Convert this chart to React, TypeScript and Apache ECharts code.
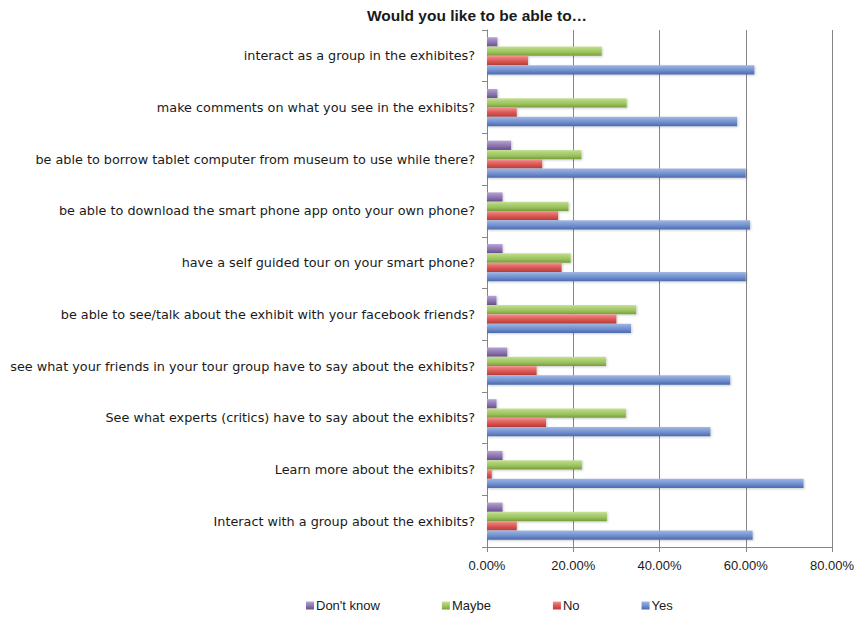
import React, { useEffect, useRef } from "react";
import * as echarts from "echarts";

const categories = [
  "interact as a group in the exhibites?",
  "make comments on what you see in the exhibits?",
  "be able to borrow tablet computer from museum to use while there?",
  "be able to download the smart phone app onto your own phone?",
  "have a self guided tour on your smart phone?",
  "be able to see/talk about the exhibit with your facebook friends?",
  "see what your friends in your tour group have to say about the exhibits?",
  "See what experts (critics) have to say about the exhibits?",
  "Learn more about the exhibits?",
  "Interact with a group about the exhibits?",
];

const dontKnow = [0.024, 0.024, 0.056, 0.036, 0.036, 0.022, 0.047, 0.022, 0.036, 0.036];
const maybe = [0.266, 0.324, 0.219, 0.189, 0.194, 0.346, 0.276, 0.322, 0.22, 0.278];
const no = [0.095, 0.069, 0.128, 0.165, 0.173, 0.3, 0.115, 0.137, 0.011, 0.069];
const yes = [0.62, 0.58, 0.6, 0.61, 0.6, 0.334, 0.564, 0.518, 0.734, 0.616];

const xTicks = ["0.00%", "20.00%", "40.00%", "60.00%", "80.00%"];

const grad = (c0: string, c1: string, c2: string, c3: string) =>
  new echarts.graphic.LinearGradient(0, 0, 0, 1, [
    { offset: 0, color: c0 },
    { offset: 0.25, color: c1 },
    { offset: 0.6, color: c2 },
    { offset: 1, color: c3 },
  ]);

export default function App() {
  const ref = useRef<HTMLDivElement>(null);
  useEffect(() => {
    if (!ref.current) return;
    const chart = echarts.init(ref.current, undefined, { renderer: "svg" });
    const font = "Liberation Sans";
    const mk = (name: string, data: number[], color: any) => ({
      name,
      type: "bar",
      data,
      barWidth: 9.3,
      barGap: "0%",
      itemStyle: {
        color,
        shadowColor: "rgba(0,0,0,0.2)",
        shadowBlur: 2,
        shadowOffsetX: 1,
        shadowOffsetY: 1,
      },
    });
    const series = [
      mk("Don't know", dontKnow, grad("#b7a6d2", "#a28dc4", "#8a70ae", "#664f88")),
      mk("Maybe", maybe, grad("#c8e298", "#b0d279", "#9cc35d", "#779d3d")),
      mk("No", no, grad("#f29a98", "#e77572", "#d9524f", "#b03f3c")),
      mk("Yes", yes, grad("#a3b8e2", "#8aa5db", "#6d8ccc", "#4a6aae")),
    ];
    chart.setOption({
      animation: false,
      backgroundColor: "#ffffff",
      title: {
        text: "Would you like to be able to…",
        left: 472,
        top: 2,
        textAlign: "center",
        textStyle: { fontFamily: font, fontSize: 15.5, fontWeight: "bold", color: "#1a1a1a" },
      },
      legend: {
        data: ["Don't know", "Maybe", "No", "Yes"],
        left: 306,
        top: 599,
        padding: 0,
        itemWidth: 8,
        itemHeight: 8,
        itemGap: 62,
        icon: "rect",
        textStyle: { fontFamily: font, fontSize: 13, color: "#1a1a1a", padding: [0, 0, 0, -3] },
      },
      grid: { left: 487, right: 30, top: 30, bottom: 70, containLabel: false },
      xAxis: {
        type: "value",
        min: 0,
        max: 0.8,
        interval: 0.2,
        axisLine: { show: true, lineStyle: { color: "#868686" } },
        axisTick: { show: true, length: 5, lineStyle: { color: "#868686" } },
        splitLine: { show: true, lineStyle: { color: "#868686", width: 1 } },
        axisLabel: {
          fontFamily: font,
          fontSize: 13,
          color: "#1a1a1a",
          margin: 12,
          formatter: (v: number) => xTicks[Math.round(v / 0.2)] ?? "",
        },
      },
      yAxis: {
        type: "category",
        data: categories,
        inverse: true,
        axisLine: { show: true, lineStyle: { color: "#868686" } },
        axisTick: { show: true, length: 5, lineStyle: { color: "#868686" } },
        axisLabel: { fontFamily: "DejaVu Sans", fontSize: 12.8, color: "#1a1a1a", margin: 12 },
      },
      series,
    });
    return () => chart.dispose();
  }, []);
  return (
    <div
      ref={ref}
      style={{ position: "absolute", left: 0, top: 0, width: 862, height: 617 }}
    />
  );
}
